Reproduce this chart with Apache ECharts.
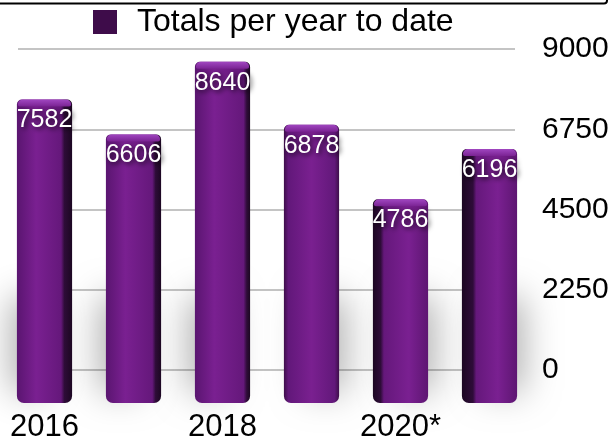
<!DOCTYPE html>
<html>
<head>
<meta charset="utf-8">
<script src="https://cdn.jsdelivr.net/npm/echarts@6/dist/echarts.min.js"></script>
<style>
html,body{margin:0;padding:0;background:#fff;}
#chart{width:616px;height:443px;}
</style>
</head>
<body>
<div id="chart"></div>
<script>
const categories = ['2016', '2017', '2018', '2019', '2020*', '2021'];
const totals = [7582, 6606, 8640, 6878, 4786, 6196];
const seriesName = 'Totals per year to date';
const yTicks = [0, 2250, 4500, 6750, 9000];

const chart = echarts.init(document.getElementById('chart'));
const FONT = '"Liberation Sans", Arial, Helvetica, sans-serif';

function bodyGradient(i) {
  if (i <= 2) {
    const s = [0.86, 0.9, 0.94][i];
    return new echarts.graphic.LinearGradient(0, 0, 1, 0, [
      {offset: 0, color: '#5a1570'},
      {offset: 0.35, color: '#7a2091'},
      {offset: s - 0.06, color: '#65187b'},
      {offset: s, color: '#2e0c38'},
      {offset: 1, color: '#1c0722'}
    ]);
  } else if (i === 3) {
    return new echarts.graphic.LinearGradient(0, 0, 1, 0, [
      {offset: 0, color: '#3e0e4a'},
      {offset: 0.08, color: '#62187a'},
      {offset: 0.5, color: '#7a2090'},
      {offset: 0.92, color: '#62187a'},
      {offset: 1, color: '#3e0e4a'}
    ]);
  } else {
    const s = [0.14, 0.2][i - 4];
    return new echarts.graphic.LinearGradient(0, 0, 1, 0, [
      {offset: 0, color: '#1c0722'},
      {offset: s, color: '#2e0c38'},
      {offset: s + 0.06, color: '#65187b'},
      {offset: 0.65, color: '#7a2091'},
      {offset: 1, color: '#5e1672'}
    ]);
  }
}

function renderBar(params, api) {
  const i = api.value(0);
  const v = api.value(1);
  const top = api.coord([i, v]);
  const base = api.coord([i, 0]);
  const bw = api.size([1, 0])[0] * 0.62;
  const x0 = top[0] - bw / 2;
  const yTop = top[1];
  const yBot = base[1] + 33;
  const dir = i <= 2 ? -1 : 1;
  return {
    type: 'group',
    children: [
      {
        type: 'rect',
        shape: {x: x0 + 8, y: yBot - 100, width: bw - 16, height: 95, r: 6},
        style: {fill: '#888', shadowBlur: 35, shadowColor: 'rgba(0,0,0,0.32)', shadowOffsetX: dir * 14, shadowOffsetY: -6}
      },
      {
        type: 'rect',
        shape: {x: x0, y: yTop, width: bw, height: yBot - yTop, r: [5, 5, 7, 7]},
        style: {fill: bodyGradient(i)}
      },
      {
        type: 'rect',
        shape: {x: x0 + 1, y: yTop, width: bw - 2, height: 7, r: [5, 5, 2, 2]},
        style: {fill: new echarts.graphic.LinearGradient(0, 0, 0, 1, [
          {offset: 0, color: '#a046c0'},
          {offset: 1, color: '#7a2393'}
        ])}
      },
      {
        type: 'text',
        style: {
          text: String(v),
          x: top[0], y: yTop + 21,
          align: 'center', verticalAlign: 'middle',
          fill: '#ffffff',
          font: '25px ' + FONT,
          textShadowColor: 'rgba(0,0,0,0.75)',
          textShadowBlur: 5,
          textShadowOffsetX: 2,
          textShadowOffsetY: 2
        }
      }
    ]
  };
}

const option = {
  backgroundColor: '#ffffff',
  animation: false,
  textStyle: {fontFamily: FONT},
  legend: {
    data: [{name: seriesName, icon: 'rect'}],
    left: 93, top: 6, padding: 0,
    itemWidth: 24, itemHeight: 24,
    textStyle: {fontSize: 32, color: '#000', fontFamily: FONT, padding: [0, 0, 0, 15]}
  },
  grid: [
    {left: 18, width: 497, top: 49, height: 321},
    {left: 0, width: 534, top: 49, height: 321}
  ],
  xAxis: [
    {gridIndex: 0, type: 'value', show: false, min: 0, max: 1},
    {
      gridIndex: 1, type: 'category', data: categories,
      axisLine: {show: false}, axisTick: {show: false},
      axisLabel: {interval: 1, fontSize: 31, color: '#000', margin: 42, fontFamily: FONT}
    }
  ],
  yAxis: [
    {
      gridIndex: 0, type: 'value', position: 'right',
      min: yTicks[0], max: yTicks[yTicks.length - 1], interval: yTicks[1] - yTicks[0],
      axisLine: {show: false}, axisTick: {show: false},
      axisLabel: {fontSize: 30, color: '#000', margin: 27, fontFamily: FONT, formatter: v => String(v)},
      splitLine: {lineStyle: {color: '#c4c4c4', width: 2}}
    },
    {
      gridIndex: 1, type: 'value', show: false,
      min: yTicks[0], max: yTicks[yTicks.length - 1]
    }
  ],
  series: [{
    name: seriesName,
    type: 'custom',
    xAxisIndex: 1, yAxisIndex: 1,
    itemStyle: {color: '#3e0c4a'},
    renderItem: renderBar,
    encode: {x: 0, y: 1},
    data: totals.map((v, i) => [i, v])
  }],
  graphic: [{
    type: 'rect',
    shape: {x: -5, y: -30, width: 612, height: 33.5, r: 3},
    style: {fill: 'none', stroke: '#000', lineWidth: 2}
  }]
};
chart.setOption(option);
</script>
</body>
</html>
